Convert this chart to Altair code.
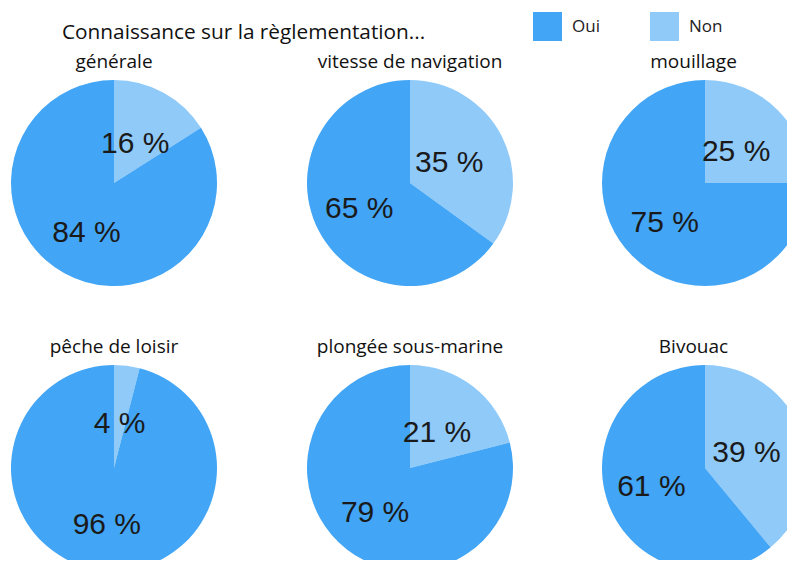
import altair as alt
import pandas as pd

categories = ["générale", "vitesse de navigation", "mouillage",
              "pêche de loisir", "plongée sous-marine", "Bivouac"]
oui = [84, 65, 75, 96, 79, 61]
non = [16, 35, 25, 4, 21, 39]
answers = ["Oui", "Non"]
colors = ["#42A5F5", "#90CAF9"]

rows = []
for c, o, n in zip(categories, oui, non):
    rows.append({"cat": c, "rep": "Non", "val": n, "ord": 0, "lr": 44})
    rows.append({"cat": c, "rep": "Oui", "val": o, "ord": 1, "lr": 57})
df = pd.DataFrame(rows)

# layout (panel widths, pie centre inside each panel)
col_widths = [212, 380, 187]
col_cx = [106, 190, 105]
row_heights = [206, 195]
R = 103
theta_scale = alt.Scale(domain=[0, 100])


def panel(cat, w, h, cx, show_legend):
    base = alt.Chart(df).transform_filter(alt.datum.cat == cat)
    legend = None
    if show_legend:
        legend = alt.Legend(orient="none", legendX=525, legendY=-68,
                            direction="horizontal", title=None,
                            symbolType="square", symbolSize=840,
                            symbolStrokeWidth=0, labelFontSize=17,
                            labelFont="Open Sans", labelColor="#222",
                            labelOffset=10, columnPadding=50)
    arc = base.mark_arc(outerRadius=R, clip=True).encode(
        x=alt.value(cx), y=alt.value(R),
        theta=alt.Theta("val:Q", stack=True, scale=theta_scale),
        order=alt.Order("ord:Q"),
        color=alt.Color("rep:N", scale=alt.Scale(domain=answers, range=colors),
                        legend=legend),
    )
    txt = base.transform_window(
        cum="sum(val)", sort=[alt.SortField("ord")]
    ).transform_calculate(
        mid="datum.cum - datum.val / 2", label="datum.val + ' %'"
    ).mark_text(font="Liberation Sans", fontSize=30, color="#1a1a1a").encode(
        x=alt.value(cx), y=alt.value(R),
        theta=alt.Theta("mid:Q", stack=False, scale=theta_scale),
        radius=alt.Radius("lr:Q", scale=None),
        text=alt.Text("label:N"),
    )
    return alt.layer(arc, txt).properties(
        width=w, height=h,
        title=alt.TitleParams(cat, fontSize=19, font="Open Sans",
                              fontWeight="normal", color="#111", offset=8))


row1 = alt.hconcat(*[panel(categories[i], col_widths[i], row_heights[0], col_cx[i], i == 0)
                     for i in range(3)], spacing=0)
row2 = alt.hconcat(*[panel(categories[i + 3], col_widths[i], row_heights[1], col_cx[i], False)
                     for i in range(3)], spacing=0)

chart = alt.vconcat(row1, row2, spacing=52).properties(
    title=alt.TitleParams("Connaissance sur la règlementation...", anchor="start",
                          dx=54, fontSize=20.8, font="Open Sans",
                          fontWeight="normal", color="#111", offset=-32),
    padding={"left": 0, "top": 4, "right": 0, "bottom": 0},
).configure_view(stroke=None)

chart.save("out.html", embed_options={"renderer": "svg", "actions": False})
